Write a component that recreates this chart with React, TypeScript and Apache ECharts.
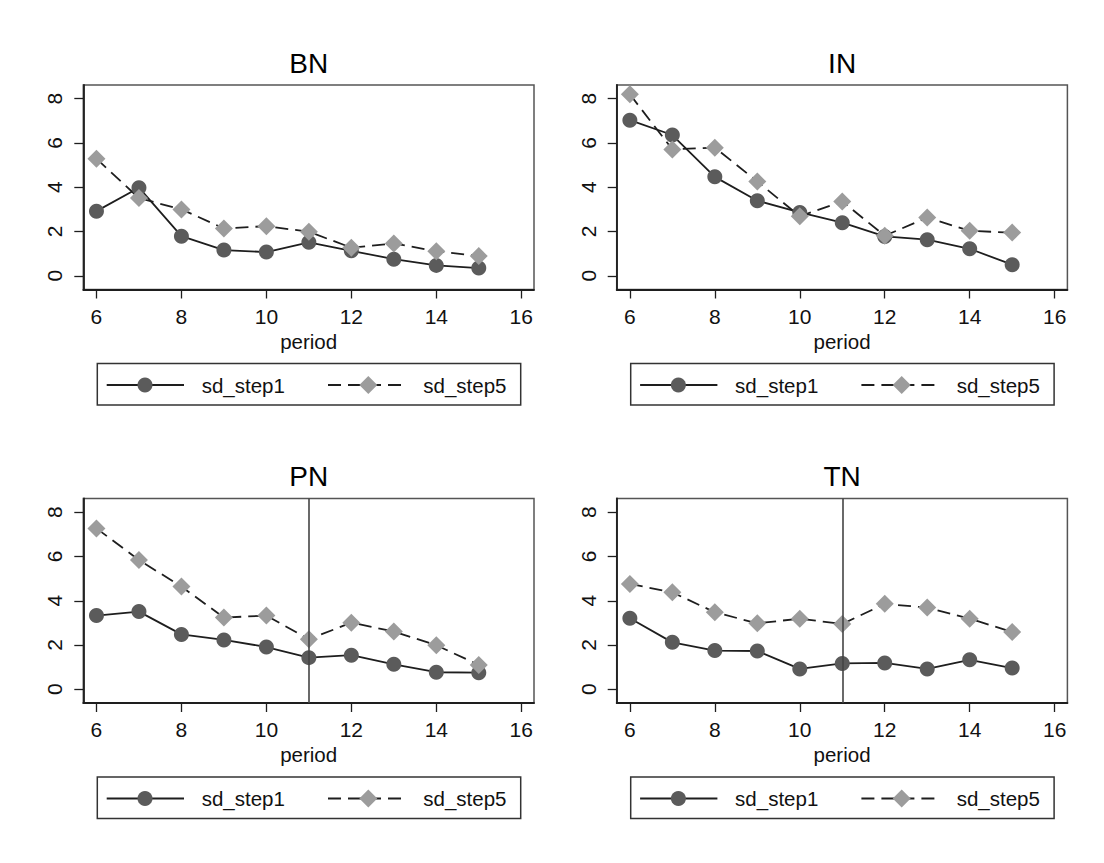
import React, { useEffect, useRef } from "react";
import * as echarts from "echarts";

// Periods on the x axis
const periods = [6, 7, 8, 9, 10, 11, 12, 13, 14, 15];

// Panel titles, in reading order
const panelTitles = ["BN", "IN", "PN", "TN"];

// Standard deviation after step 1, per panel
const bnStep1 = [2.92, 3.98, 1.79, 1.16, 1.07, 1.51, 1.13, 0.75, 0.47, 0.35];
const inStep1 = [7.03, 6.36, 4.47, 3.39, 2.86, 2.4, 1.78, 1.63, 1.22, 0.5];
const pnStep1 = [3.33, 3.51, 2.48, 2.23, 1.91, 1.43, 1.54, 1.13, 0.77, 0.75];
const tnStep1 = [3.21, 2.12, 1.75, 1.73, 0.92, 1.17, 1.19, 0.92, 1.33, 0.96];

// Standard deviation after step 5, per panel
const bnStep5 = [5.29, 3.51, 3.0, 2.14, 2.24, 1.99, 1.27, 1.46, 1.11, 0.89];
const inStep5 = [8.2, 5.71, 5.79, 4.26, 2.69, 3.36, 1.81, 2.63, 2.03, 1.95];
const pnStep5 = [7.27, 5.84, 4.64, 3.24, 3.33, 2.26, 3.01, 2.61, 1.99, 1.1];
const tnStep5 = [4.76, 4.38, 3.48, 2.98, 3.19, 2.95, 3.86, 3.69, 3.19, 2.59];

// Vertical reference line (only drawn in the lower panels)
const referencePeriod = 11;
const panelHasReference = [false, false, true, true];

// Tick values
const xTicks = [6, 8, 10, 12, 14, 16];
const yTicks = [0, 2, 4, 6, 8];

const seriesNames = ["sd_step1", "sd_step5"];
const step1Sets = [bnStep1, inStep1, pnStep1, tnStep1];
const step5Sets = [bnStep5, inStep5, pnStep5, tnStep5];

const FONT = "'Liberation Sans', Arial, Helvetica, sans-serif";
const DARK = "#1e1e1e";
const CIRCLE = "#5b5b5b";
const DIAMOND = "#9c9c9c";
const DASH = [13, 7];
const LINE_W = 1.8;

export default function App() {
  const ref = useRef<HTMLDivElement>(null);

  useEffect(() => {
    document.body.style.margin = "0";
    if (!ref.current) return;
    const chart = echarts.init(ref.current, null, { renderer: "svg" });

    // layout of the top-left panel; others are shifted copies
    const base = { left: 83.3, top: 85, width: 450.7, height: 204.5 };
    const dxs = [0, 533.4, 0, 533.4];
    const dys = [0, 0, 413.5, 413.5];

    const grids: any[] = [];
    const xAxes: any[] = [];
    const yAxes: any[] = [];
    const series: any[] = [];
    const graphics: any[] = [];

    panelTitles.forEach((title, i) => {
      const dx = dxs[i];
      const dy = dys[i];
      grids.push({
        left: base.left + dx,
        top: base.top + dy,
        width: base.width,
        height: base.height,
        show: true,
        borderColor: "#555",
        borderWidth: 1.5,
        backgroundColor: "#fff",
      });
      xAxes.push({
        type: "value",
        gridIndex: i,
        min: 5.69,
        max: 16.3,
        name: "period",
        nameLocation: "middle",
        nameGap: 41,
        nameTextStyle: { fontFamily: FONT, fontSize: 20.5, color: "#111" },
        axisLine: { show: true, onZero: false, lineStyle: { color: DARK, width: 1.8 } },
        axisTick: {
          show: true,
          length: 9,
          customValues: xTicks,
          lineStyle: { color: DARK, width: 1.3 },
        },
        axisLabel: {
          customValues: xTicks,
          margin: 16,
          fontFamily: FONT,
          fontSize: 21,
          color: "#111",
        },
        splitLine: { show: false },
      });
      yAxes.push({
        type: "value",
        gridIndex: i,
        min: -0.62,
        max: 8.62,
        axisLine: { show: true, onZero: false, lineStyle: { color: DARK, width: 1.8 } },
        axisTick: {
          show: true,
          length: 9,
          customValues: yTicks,
          lineStyle: { color: DARK, width: 1.3 },
        },
        axisLabel: {
          customValues: yTicks,
          rotate: 90,
          margin: 18,
          fontFamily: FONT,
          fontSize: 21,
          color: "#111",
        },
        splitLine: { show: false },
      });

      const s1 = step1Sets[i];
      const s5 = step5Sets[i];
      series.push({
        type: "line",
        name: seriesNames[0],
        xAxisIndex: i,
        yAxisIndex: i,
        data: periods.map((p, k) => [p, s1[k]]),
        symbol: "circle",
        symbolSize: 15,
        itemStyle: { color: CIRCLE },
        lineStyle: { color: DARK, width: LINE_W },
        markLine: panelHasReference[i]
          ? {
              silent: true,
              symbol: ["none", "none"],
              label: { show: false },
              lineStyle: { color: "#444", width: 1.6, type: "solid" },
              data: [{ xAxis: referencePeriod }],
            }
          : undefined,
      });
      series.push({
        type: "line",
        name: seriesNames[1],
        xAxisIndex: i,
        yAxisIndex: i,
        data: periods.map((p, k) => [p, s5[k]]),
        symbol: "diamond",
        symbolSize: 18,
        itemStyle: { color: DIAMOND },
        lineStyle: { color: DARK, width: LINE_W, type: DASH },
      });

      // panel title
      graphics.push({
        type: "text",
        x: 308.7 + dx,
        y: 63.3 + dy,
        style: {
          text: title,
          fontFamily: FONT,
          fontSize: 28,
          fill: "#000",
          align: "center",
          verticalAlign: "middle",
        },
      });

      // legend box
      const ly = 385 + dy;
      graphics.push({
        type: "rect",
        shape: { x: 97.3 + dx, y: 363.5 + dy, width: 423.4, height: 41.5 },
        style: { fill: "#fff", stroke: "#333", lineWidth: 1.5 },
      });
      graphics.push({
        type: "line",
        shape: { x1: 106.7 + dx, y1: ly, x2: 184 + dx, y2: ly },
        style: { stroke: DARK, lineWidth: LINE_W },
      });
      graphics.push({
        type: "circle",
        shape: { cx: 145 + dx, cy: ly, r: 7.5 },
        style: { fill: CIRCLE },
      });
      graphics.push({
        type: "text",
        x: 201.7 + dx,
        y: ly,
        style: {
          text: seriesNames[0],
          fontFamily: FONT,
          fontSize: 20.5,
          fill: "#111",
          align: "left",
          verticalAlign: "middle",
        },
      });
      graphics.push({
        type: "line",
        shape: { x1: 328 + dx, y1: ly, x2: 406.7 + dx, y2: ly },
        style: { stroke: DARK, lineWidth: LINE_W, lineDash: DASH },
      });
      const cx = 368.3 + dx;
      graphics.push({
        type: "polygon",
        shape: {
          points: [
            [cx, ly - 9],
            [cx + 9, ly],
            [cx, ly + 9],
            [cx - 9, ly],
          ],
        },
        style: { fill: DIAMOND },
      });
      graphics.push({
        type: "text",
        x: 423.3 + dx,
        y: ly,
        style: {
          text: seriesNames[1],
          fontFamily: FONT,
          fontSize: 20.5,
          fill: "#111",
          align: "left",
          verticalAlign: "middle",
        },
      });
    });

    chart.setOption({
      animation: false,
      backgroundColor: "#fff",
      grid: grids,
      xAxis: xAxes,
      yAxis: yAxes,
      series,
      graphic: graphics,
    });

    return () => chart.dispose();
  }, []);

  return <div ref={ref} style={{ width: 1104, height: 863 }} />;
}
